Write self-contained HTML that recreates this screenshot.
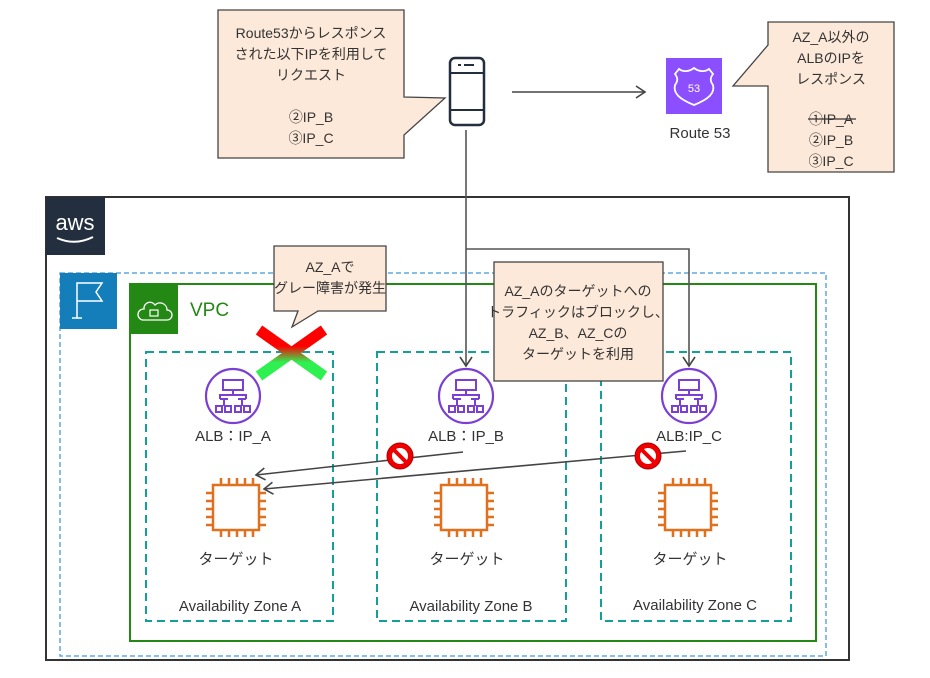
<!DOCTYPE html>
<html><head><meta charset="utf-8"><style>
body{margin:0;background:#fff}
svg text{font-family:"Liberation Sans","Noto Sans CJK JP",sans-serif;fill:#333}
</style></head><body>
<svg width="930" height="673" viewBox="0 0 930 673" xmlns="http://www.w3.org/2000/svg">
<defs>
<marker id="ar" markerWidth="14" markerHeight="14" refX="11" refY="7" orient="auto" markerUnits="userSpaceOnUse">
<path d="M2,1 L11,7 L2,13" fill="none" stroke="#444" stroke-width="1.6"/></marker>
<linearGradient id="xg" x1="0" y1="0" x2="0" y2="1"><stop offset="0.35" stop-color="#f00"/><stop offset="0.7" stop-color="#2ef050"/></linearGradient>
<g id="alb"><circle r="27" fill="#fff" stroke="#7b3fd4" stroke-width="2.2"/>
<g fill="none" stroke="#7b3fd4" stroke-width="2"><rect x="-10" y="-16" width="20" height="10"/><path d="M0,-6 V-1 M-13,3 V-1 H13 V3 M-9,3 V10 M9,3 V10 M-13,3 H-5 M5,3 H13"/><rect x="-17" y="10" width="6" height="6"/><rect x="-8" y="10" width="6" height="6"/><rect x="2" y="10" width="6" height="6"/><rect x="11" y="10" width="6" height="6"/></g></g>
<g id="chip" fill="none" stroke="#e0701d" stroke-width="2.5"><rect x="-20" y="-22" width="46" height="45"/>
<path d="M-12,-22v-7M-4,-22v-7M4,-22v-7M12,-22v-7M20,-22v-7M-12,23v7M-4,23v7M4,23v7M12,23v7M20,23v7M-20,-14h-7M-20,-6h-7M-20,2h-7M-20,10h-7M-20,18h-7M26,-14h7M26,-6h7M26,2h7M26,10h7M26,18h7"/></g>
<g id="no"><circle r="13" fill="#e00" stroke="#a00" stroke-width="1"/><circle r="8" fill="#fff"/><line x1="-7" y1="-7" x2="7" y2="7" stroke="#e00" stroke-width="4"/></g>
</defs>
<polygon points="218,10 404,10 404,97 445,98 404,135 404,158 218,158" fill="#fde9d9" stroke="#444" stroke-width="1.3"/>
<g font-size="14" text-anchor="middle"><text x="311" y="38">Route53からレスポンス</text><text x="311" y="59">された以下IPを利用して</text><text x="311" y="80">リクエスト</text><text x="311" y="122">②IP_B</text><text x="311" y="143">③IP_C</text></g>
<rect x="450" y="58" width="34" height="67" rx="5" fill="none" stroke="#232f3e" stroke-width="2.5"/>
<line x1="451" y1="73" x2="483" y2="73" stroke="#232f3e" stroke-width="2"/><line x1="451" y1="110" x2="483" y2="110" stroke="#232f3e" stroke-width="2"/>
<line x1="458" y1="65" x2="461" y2="65" stroke="#232f3e" stroke-width="2"/><line x1="464" y1="65" x2="474" y2="65" stroke="#232f3e" stroke-width="2"/>
<line x1="512" y1="92" x2="645" y2="92" stroke="#444" stroke-width="1.6" marker-end="url(#ar)"/>
<rect x="666" y="58" width="56" height="56" fill="#8c4fff"/>
<path d="M694,68 c5,4 11,4 15,1 l4,5 c-3,4 -3,7 0,11 c2,8 -4,14 -19,20 c-15,-6 -21,-12 -19,-20 c3,-4 3,-7 0,-11 l4,-5 c4,3 10,3 15,-1z" fill="none" stroke="#fff" stroke-width="1.8"/>
<text x="694" y="92" font-size="11" text-anchor="middle" style="fill:#fff">53</text>
<text x="700" y="138" font-size="15" text-anchor="middle">Route 53</text>
<polygon points="768,22 894,22 894,172 768,172 768,86 733,86 768,45" fill="#fde9d9" stroke="#444" stroke-width="1.3"/>
<g font-size="14" text-anchor="middle"><text x="831" y="42">AZ_A以外の</text><text x="831" y="63">ALBのIPを</text><text x="831" y="84">レスポンス</text><text x="831" y="124">①IP_A</text><text x="831" y="145">②IP_B</text><text x="831" y="166">③IP_C</text></g>
<line x1="808" y1="119" x2="856" y2="119" stroke="#333" stroke-width="1.2"/>
<rect x="46" y="197" width="803" height="463" fill="none" stroke="#333" stroke-width="2"/>
<rect x="46" y="197" width="59" height="58" fill="#232f3e"/>
<text x="75" y="230" font-size="22" text-anchor="middle" style="fill:#fff">aws</text>
<path d="M57,238 q18,8 36,-1" fill="none" stroke="#fff" stroke-width="2"/>
<rect x="60" y="273" width="766" height="383" fill="none" stroke="#5ea8e0" stroke-width="1.5" stroke-dasharray="5,3"/>
<rect x="60" y="273" width="57" height="56" fill="#147eba"/>
<path d="M77,318 V283 H102 L96,292 L102,301 H77 M72,318 H82" fill="none" stroke="#fff" stroke-width="1.5"/>
<rect x="130" y="284" width="686" height="357" fill="none" stroke="#248814" stroke-width="2"/>
<rect x="130" y="284" width="48" height="50" fill="#248814"/>
<path d="M143,320 h24 a5,5 0 0 0 0,-10 a7,7 0 0 0 -12,-5 a6,6 0 0 0 -11,4 a5,5 0 0 0 -1,11z" fill="none" stroke="#fff" stroke-width="1.3"/>
<rect x="150" y="310" width="8" height="6" fill="none" stroke="#fff" stroke-width="1.2"/>
<text x="190" y="316" font-size="19" style="fill:#248814">VPC</text>
<g fill="none" stroke="#14a09a" stroke-width="2" stroke-dasharray="8,5">
<rect x="146" y="352" width="187" height="269"/><rect x="377" y="352" width="189" height="269"/><rect x="601" y="352" width="190" height="269"/></g>
<path d="M466,130 V366" fill="none" stroke="#555" stroke-width="1.6" marker-end="url(#ar)"/>
<path d="M466,249 H689 V366" fill="none" stroke="#555" stroke-width="1.6" marker-end="url(#ar)"/>
<polygon points="274,246 386,246 386,311 318,311 292,327 298,311 274,311" fill="#fde9d9" stroke="#444" stroke-width="1.3"/>
<g font-size="14" text-anchor="middle"><text x="330" y="272">AZ_Aで</text><text x="330" y="293">グレー障害が発生</text></g>
<rect x="494" y="262" width="169" height="119" fill="#fde9d9" stroke="#444" stroke-width="1.3"/>
<g font-size="14" text-anchor="middle"><text x="578" y="296">AZ_Aのターゲットへの</text><text x="578" y="317">トラフィックはブロックし、</text><text x="578" y="338">AZ_B、AZ_Cの</text><text x="578" y="359">ターゲットを利用</text></g>
<g stroke="url(#xg)" stroke-width="11"><line x1="259" y1="330" x2="324" y2="376"/><line x1="324" y1="330" x2="259" y2="376"/></g>
<use href="#alb" x="233" y="396"/><use href="#alb" x="466" y="396"/><use href="#alb" x="689" y="396"/>
<g font-size="15" text-anchor="middle"><text x="233" y="441">ALB：IP_A</text><text x="466" y="441">ALB：IP_B</text><text x="689" y="441">ALB:IP_C</text></g>
<line x1="463" y1="452" x2="256" y2="475" stroke="#444" stroke-width="1.6" marker-end="url(#ar)"/>
<line x1="686" y1="451" x2="264" y2="489" stroke="#444" stroke-width="1.6" marker-end="url(#ar)"/>
<use href="#no" x="400" y="456"/><use href="#no" x="648" y="456"/>
<use href="#chip" x="233" y="507"/><use href="#chip" x="461" y="507"/><use href="#chip" x="685" y="507"/>
<g font-size="15" text-anchor="middle"><text x="236" y="564">ターゲット</text><text x="467" y="564">ターゲット</text><text x="690" y="564">ターゲット</text></g>
<g font-size="15" text-anchor="middle"><text x="240" y="611">Availability Zone A</text><text x="471" y="611">Availability Zone B</text><text x="695" y="610">Availability Zone C</text></g>
</svg>
</body></html>
